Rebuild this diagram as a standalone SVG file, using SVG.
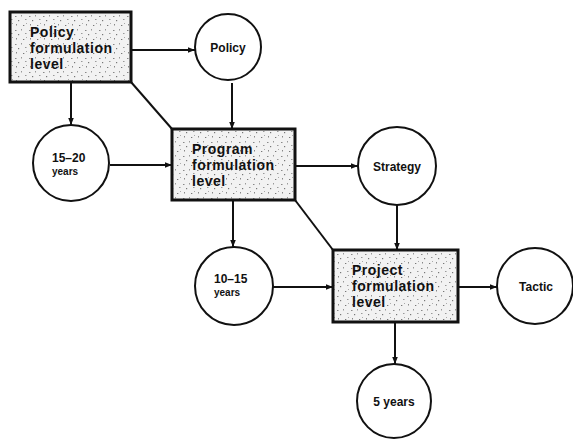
<svg xmlns="http://www.w3.org/2000/svg" width="573" height="439" viewBox="0 0 573 439">
<style>
.box{stroke:#111;stroke-width:3;fill:url(#speck)}
.circ{fill:#fff;stroke:#111;stroke-width:2}
.lbl{font-family:"Liberation Sans",Arial,sans-serif;font-weight:bold;font-size:14px;letter-spacing:0.5px;fill:#111}
.cl{font-family:"Liberation Sans",Arial,sans-serif;font-weight:bold;font-size:12px;fill:#111}
.cs{font-family:"Liberation Sans",Arial,sans-serif;font-weight:bold;font-size:10px;fill:#111}
.con line{stroke:#111;stroke-width:2}
</style>
<defs>
<pattern id="speck" width="14" height="14" patternUnits="userSpaceOnUse">
<rect width="14" height="14" fill="#f2f2f2"/>
<rect x="1" y="2" width="1.5" height="1" fill="#888"/>
<rect x="7" y="1" width="1" height="1.5" fill="#999"/>
<rect x="4" y="6" width="1.2" height="1.2" fill="#777"/>
<rect x="11" y="5" width="1.5" height="1" fill="#999"/>
<rect x="2" y="10" width="1" height="1.5" fill="#888"/>
<rect x="9" y="11" width="1.3" height="1" fill="#777"/>
<rect x="12" y="9" width="1" height="1" fill="#aaa"/>
</pattern>
<marker id="ah" viewBox="0 0 10 10" refX="10" refY="5" markerWidth="7" markerHeight="7" markerUnits="userSpaceOnUse" orient="auto">
<path d="M0,1 L10,5 L0,9 Z" fill="#111"/>
</marker>
</defs>
<g id="connectors" class="con">
<line x1="131" y1="50" x2="195" y2="50" marker-end="url(#ah)"/>
<line x1="232" y1="83" x2="232" y2="129" marker-end="url(#ah)"/>
<line x1="71" y1="82" x2="71" y2="125" marker-end="url(#ah)"/>
<line x1="131" y1="82" x2="172" y2="129"/>
<line x1="110" y1="165" x2="172" y2="165" marker-end="url(#ah)"/>
<line x1="295" y1="166" x2="358" y2="166" marker-end="url(#ah)"/>
<line x1="233" y1="200" x2="233" y2="247" marker-end="url(#ah)"/>
<line x1="295" y1="200" x2="333" y2="250"/>
<line x1="397" y1="205" x2="397" y2="250" marker-end="url(#ah)"/>
<line x1="273" y1="287" x2="333" y2="287" marker-end="url(#ah)"/>
<line x1="458" y1="287" x2="497" y2="287" marker-end="url(#ah)"/>
<line x1="395" y1="322" x2="395" y2="364" marker-end="url(#ah)"/>
</g>
<g id="policy-level">
<rect class="box" x="10" y="12" width="121" height="70"/>
<text class="lbl" x="30" y="37">Policy</text>
<text class="lbl" x="30" y="53">formulation</text>
<text class="lbl" x="30" y="69">level</text>
</g>
<g id="policy">
<circle class="circ" cx="228" cy="47" r="33"/>
<text class="cl" x="228" y="52" text-anchor="middle">Policy</text>
</g>
<g id="y15-20">
<circle class="circ" cx="71" cy="163" r="38"/>
<text class="cl" x="52" y="162">15–20</text>
<text class="cs" x="52" y="175">years</text>
</g>
<g id="program-level">
<rect class="box" x="172" y="129" width="123" height="71"/>
<text class="lbl" x="192" y="154">Program</text>
<text class="lbl" x="192" y="170">formulation</text>
<text class="lbl" x="192" y="186">level</text>
</g>
<g id="strategy">
<circle class="circ" cx="397" cy="166" r="39"/>
<text class="cl" x="397" y="171" text-anchor="middle">Strategy</text>
</g>
<g id="y10-15">
<circle class="circ" cx="234" cy="286" r="39"/>
<text class="cl" x="214" y="283">10–15</text>
<text class="cs" x="214" y="296">years</text>
</g>
<g id="project-level">
<rect class="box" x="333" y="250" width="125" height="72"/>
<text class="lbl" x="352" y="275">Project</text>
<text class="lbl" x="352" y="291">formulation</text>
<text class="lbl" x="352" y="307">level</text>
</g>
<g id="tactic">
<circle class="circ" cx="535" cy="286" r="38"/>
<text class="cl" x="536" y="291" text-anchor="middle">Tactic</text>
</g>
<g id="y5">
<circle class="circ" cx="394" cy="401" r="37"/>
<text class="cl" x="394" y="406" text-anchor="middle">5 years</text>
</g>
</svg>
